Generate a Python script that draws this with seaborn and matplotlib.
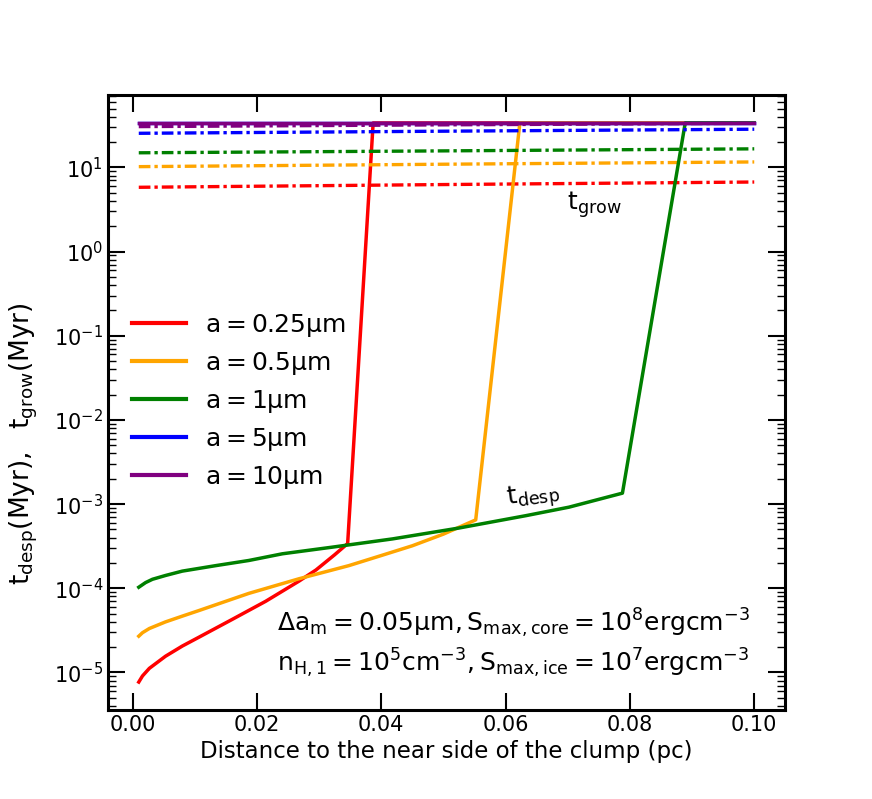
import matplotlib
matplotlib.use("Agg")
import matplotlib.pyplot as plt
import seaborn as sns
import numpy as np

# ---------------- data ----------------
sizes = ["0.25", "0.5", "1", "5", "10"]
colors = ["red", "orange", "green", "blue", "purple"]

# t_desp (solid lines)
red_desp_x = [0.001, 0.0016, 0.0027, 0.0053, 0.008, 0.0107, 0.0161, 0.0214, 0.0268, 0.0295, 0.0325, 0.0346, 0.0387, 0.1]
red_desp_y = [7.7e-6, 9.1e-6, 1.12e-5, 1.56e-5, 2.06e-5, 2.63e-5, 4.3e-5, 7.0e-5, 1.22e-4, 1.65e-4, 2.5e-4, 3.4e-4, 33.7, 33.7]

orange_desp_x = [0.001, 0.0016, 0.0027, 0.0053, 0.008, 0.0107, 0.0187, 0.0268, 0.0348, 0.040, 0.045, 0.050, 0.0552, 0.0623, 0.1]
orange_desp_y = [2.7e-5, 2.97e-5, 3.33e-5, 3.99e-5, 4.67e-5, 5.45e-5, 8.7e-5, 1.3e-4, 1.86e-4, 2.45e-4, 3.2e-4, 4.4e-4, 6.5e-4, 33.7, 33.7]

green_desp_x = [0.001, 0.0021, 0.0032, 0.0053, 0.008, 0.0134, 0.0187, 0.0241, 0.0321, 0.0418, 0.0525, 0.0633, 0.0702, 0.0788, 0.0889, 0.1]
green_desp_y = [1.03e-4, 1.17e-4, 1.28e-4, 1.42e-4, 1.6e-4, 1.86e-4, 2.14e-4, 2.57e-4, 3.08e-4, 3.86e-4, 5.2e-4, 7.3e-4, 9.2e-4, 1.35e-3, 33.7, 33.7]

blue_desp_x = [0.001, 0.1]
blue_desp_y = [33.7, 33.7]

purple_desp_x = [0.001, 0.1]
purple_desp_y = [33.7, 33.7]

# t_grow (dash-dot lines)
grow_x = [0.001, 0.05, 0.1]
red_grow_y = [5.8, 6.25, 6.7]
orange_grow_y = [10.2, 10.9, 11.6]
green_grow_y = [14.9, 15.7, 16.6]
blue_grow_y = [25.4, 26.9, 28.4]
purple_grow_y = [30.5, 32.0, 33.4]

desp = [(red_desp_x, red_desp_y), (orange_desp_x, orange_desp_y),
        (green_desp_x, green_desp_y), (blue_desp_x, blue_desp_y),
        (purple_desp_x, purple_desp_y)]
grow = [red_grow_y, orange_grow_y, green_grow_y, blue_grow_y, purple_grow_y]

# ---------------- style ----------------
plt.rcParams["font.family"] = ["DejaVu Sans"]
plt.rcParams["mathtext.default"] = "regular"

fig = plt.figure(figsize=(8.72, 7.99), dpi=100)
ax = fig.add_axes([108 / 872, 1 - 710 / 799, 677 / 872, 615 / 799])

dashdot = (0, (3.5, 1.2, 1.0, 1.2))

for i, (s, c) in enumerate(zip(sizes, colors)):
    xs, ys = desp[i]
    sns.lineplot(x=xs, y=ys, color=c, lw=2.5, sort=False, estimator=None,
                 label=r"$a = %s\mu m$" % s, ax=ax)
    sns.lineplot(x=grow_x, y=grow[i], color=c, lw=2.4, linestyle=dashdot,
                 sort=False, estimator=None, ax=ax, legend=False)

ax.set_yscale("log")
ax.autoscale()

for sp in ax.spines.values():
    sp.set_linewidth(2.2)

ax.tick_params(which="major", direction="in", length=12, width=1.5,
               top=True, right=True, labelsize=15)
ax.tick_params(which="minor", direction="in", length=6, width=1.0,
               top=True, right=True)
ax.xaxis.set_minor_locator(matplotlib.ticker.NullLocator())
ax.set_xticks([0.0, 0.02, 0.04, 0.06, 0.08, 0.10])
ax.xaxis.set_major_formatter(matplotlib.ticker.FormatStrFormatter("%.2f"))

ax.set_xlabel("Distance to the near side of the clump (pc)", fontsize=16.5)
ax.set_ylabel(r"$t_{desp}(Myr),\ \ t_{grow}(Myr)$", fontsize=19)
ax.yaxis.set_label_coords(-0.1, 0.4325)

leg = ax.legend(loc="center left", bbox_to_anchor=(0.02, 0.502), frameon=False,
                fontsize=18, handlelength=2.16, handletextpad=0.76,
                labelspacing=0.44, borderaxespad=0)
for h in leg.get_lines():
    h.set_linewidth(3)
    h.set_linestyle("-")

ax.text(0.0699, 3.13, r"$t_{grow}$", fontsize=18, ha="left", va="baseline")
ax.text(0.0644, 1.25e-3, r"$t_{desp}$", fontsize=18, ha="center", va="center",
        rotation=8)

ax.text(0.249, 0.127, r"$\Delta a_m = 0.05\mu m, S_{max,core} = 10^8 erg cm^{-3}$",
        transform=ax.transAxes, fontsize=18, ha="left", va="baseline")
ax.text(0.249, 0.0623, r"$n_{H,1} = 10^5 cm^{-3}, S_{max,ice} = 10^7 erg cm^{-3}$",
        transform=ax.transAxes, fontsize=18, ha="left", va="baseline")

fig.savefig("out.png", dpi=100)
